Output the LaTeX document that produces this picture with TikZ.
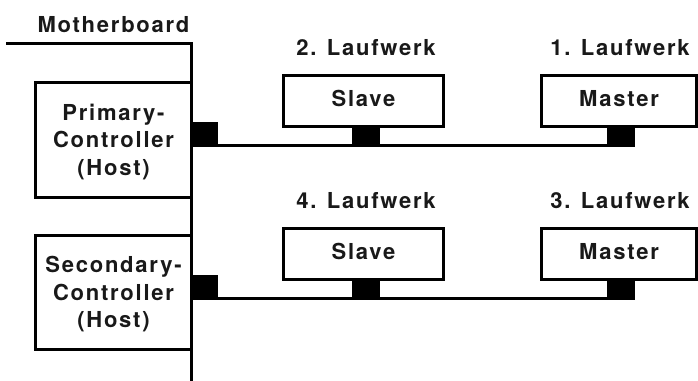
\documentclass[tikz,border=0pt]{standalone}
\usepackage{fontspec}
\newfontfamily\lblfont{texgyreheros-bold.otf}[LetterSpace=8]
\begin{document}
\begin{tikzpicture}[x=1pt,y=-1pt,
  txt/.style={font=\lblfont\fontsize{22}{27.5}\selectfont, inner sep=0pt, text=black!90},
  lbl/.style={txt, anchor=base},
  box/.style={draw, line width=3pt, fill=white, inner sep=0pt, txt},
  drive/.style={box, minimum height=51pt, text height=15.5pt, text depth=4pt},
  plug/.style={fill=black, inner sep=0pt, minimum width=28pt},
  bus/.style={line width=3pt},
]
\useasboundingbox (0,0) rectangle (698,380);

% motherboard
\node[lbl] (mb) at (113.5,32.3) {Motherboard};
\coordinate (mbA) at (6,43.7);
\coordinate (mbB) at (191.5,43.7);
\coordinate (mbC) at (191.5,382);

% controllers
\node[box, minimum width=156pt, minimum height=115pt] (prim) at (113.5,139.75) {};
\node[txt, align=center, yshift=-2pt] (primtxt) at (prim.center) {Primary-\\Controller\\(Host)};
\node[box, minimum width=156pt, minimum height=114pt] (sec) at (113.5,292.5) {};
\node[txt, align=center, yshift=-2pt] (sectxt) at (sec.center) {Secondary-\\Controller\\(Host)};

\draw[line width=3pt] (mbA) -- (mbB) -- (mbC);

% row 1
\node[lbl] (l2) at (366,55) {2. Laufwerk};
\node[lbl] (l1) at (620,55) {1. Laufwerk};
\node[drive, minimum width=160pt] (s1) at (363.5,100.5) {Slave};
\node[drive, minimum width=155pt] (m1) at (619,100.5) {Master};
\node[plug, minimum width=26pt, minimum height=25pt] (pp) at (205,134.5) {};
\node[plug, minimum height=21pt] (sp1) at (366,136.5) {};
\node[plug, minimum height=21pt] (mp1) at (621,136.5) {};
\draw[bus] ([yshift=1.5pt]pp.south east) -- ([yshift=1.5pt]sp1.south west);
\draw[bus] ([yshift=1.5pt]sp1.south east) -- ([yshift=1.5pt]mp1.south west);

% row 2
\node[lbl] (l4) at (366,208) {4. Laufwerk};
\node[lbl] (l3) at (620,208) {3. Laufwerk};
\node[drive, minimum width=160pt] (s2) at (363.5,253.5) {Slave};
\node[drive, minimum width=155pt] (m2) at (619,253.5) {Master};
\node[plug, minimum width=26pt, minimum height=25pt] (sp) at (205,287.5) {};
\node[plug, minimum height=21pt] (sp2) at (366,289.5) {};
\node[plug, minimum height=21pt] (mp2) at (621,289.5) {};
\draw[bus] ([yshift=1.5pt]sp.south east) -- ([yshift=1.5pt]sp2.south west);
\draw[bus] ([yshift=1.5pt]sp2.south east) -- ([yshift=1.5pt]mp2.south west);
\end{tikzpicture}
\end{document}
